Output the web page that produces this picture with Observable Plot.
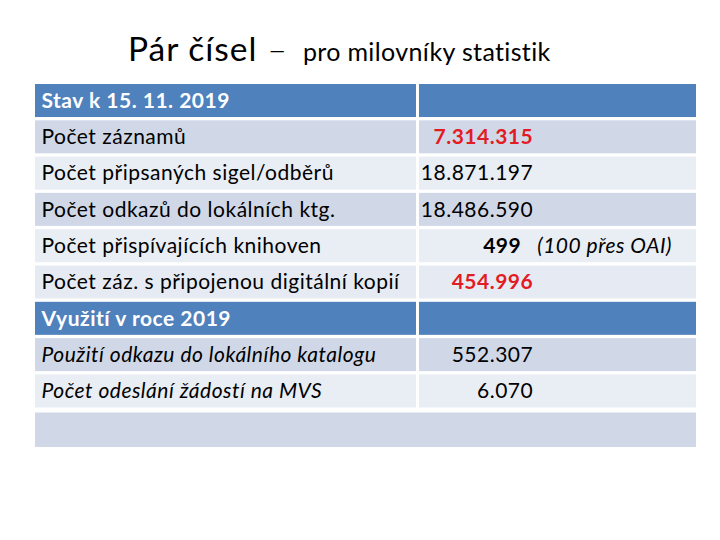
<!DOCTYPE html>
<html>
<head>
<meta charset="utf-8">
<script src="https://cdn.jsdelivr.net/npm/d3@7"></script>
<script src="https://cdn.jsdelivr.net/npm/@observablehq/plot@0.6"></script>
<style>
  html, body { margin: 0; padding: 0; background: #fff; }
  #wrap { width: 720px; height: 540px; position: relative; overflow: hidden; }
  #title { position: absolute; left: 128px; top: 0; height: 80px; width: 600px;
           font-family: Lato, "Open Sans", sans-serif; color: #000; white-space: nowrap; }
  #title .big { position: absolute; top: 28px; left: 0; font-size: 33.5px; line-height: 40px; letter-spacing: 1px; }
  #title .dash { display: inline-block; margin: 0 15px 0 10px; font-weight: 300; }
  #title .sub { font-size: 25px; letter-spacing: 0.35px; }
  #chart { position: absolute; left: 0; top: 80px; }
  #chart svg { font-family: Lato, sans-serif; }
  #chart svg text { letter-spacing: 0.5px; }
</style>
</head>
<body>
<div id="wrap">
  <div id="title"><div class="big">Pár čísel<span class="dash">–</span><span class="sub">pro milovníky statistik</span></div></div>
  <div id="chart"></div>
</div>
<script>
// ---- data ----
const rowLabels = [
  "Stav k 15. 11. 2019",
  "Počet záznamů",
  "Počet připsaných sigel/odběrů",
  "Počet odkazů do lokálních ktg.",
  "Počet přispívajících knihoven",
  "Počet záz. s připojenou digitální kopií",
  "Využití v roce 2019",
  "Použití odkazu do lokálního katalogu",
  "Počet odeslání žádostí na MVS",
  ""
];
const rowValues = ["", "7.314.315", "18.871.197", "18.486.590", "499", "454.996", "", "552.307", "6.070", ""];
const rowNotes = ["", "", "", "", "(100 přes OAI)", "", "", "", "", ""];
const rowKind = ["header", "body", "body", "body", "body", "body", "header", "body", "body", "footer"];

// ---- layout / style (not data) ----
const split0 = 57.64, split1 = 58.09;   // column boundary in % of table width
const valueEdge = 75.3, noteStart = 75.9;
const shade = ["#4F81BD", "#D0D8E8", "#E9EDF4", "#D0D8E8", "#E9EDF4", "#E6EBF3", "#4F81BD", "#D0D8E8", "#E9EDF4", "#D0D8E8"];
const highlight = new Set([1, 5]);   // red bold values
const boldValue = new Set([4]);
const italicRows = new Set([7, 8]);

const rows = rowLabels.map((label, i) => ({
  i, label, value: rowValues[i], note: rowNotes[i], kind: rowKind[i], fill: shade[i]
}));

const cells = [];
for (const r of rows) {
  if (r.kind === "footer") {
    cells.push({x1: 0, x2: 100, y1: r.i + 0.05, y2: r.i + 1.0, fill: r.fill});
  } else {
    cells.push({x1: 0, x2: split0, y1: r.i, y2: r.i + 0.91, fill: r.fill});
    cells.push({x1: split1, x2: 100, y1: r.i, y2: r.i + 0.91, fill: r.fill});
  }
}

const mid = d => d.i + 0.455;
const fs = 21;

const plot = Plot.plot({
  width: 720,
  height: 460,
  margin: 0,
  x: {type: "linear", domain: [0, 100], range: [35, 696], axis: null},
  y: {type: "linear", domain: [0, 10], range: [4, 367], axis: null},
  color: {type: "identity"},
  marks: [
    Plot.rect(cells, {x1: "x1", x2: "x2", y1: "y1", y2: "y2", fill: "fill"}),
    // header labels
    Plot.text(rows, {filter: d => d.kind === "header", x: () => 0, y: mid, text: "label",
      dx: 6, textAnchor: "start", lineAnchor: "middle", fill: "#fff", fontWeight: "bold", fontSize: fs}),
    // normal labels
    Plot.text(rows, {filter: d => d.kind === "body" && !italicRows.has(d.i), x: () => 0, y: mid, text: "label",
      dx: 6, textAnchor: "start", lineAnchor: "middle", fill: "#000", fontSize: fs}),
    // italic labels
    Plot.text(rows, {filter: d => italicRows.has(d.i), x: () => 0, y: mid, text: "label",
      dx: 6, textAnchor: "start", lineAnchor: "middle", fill: "#000", fontStyle: "italic", fontSize: fs}),
    // plain values
    Plot.text(rows, {filter: d => d.value && !highlight.has(d.i) && !boldValue.has(d.i), x: () => valueEdge, y: mid, text: "value",
      textAnchor: "end", lineAnchor: "middle", fill: "#000", fontSize: fs}),
    // bold value
    Plot.text(rows, {filter: d => boldValue.has(d.i), x: () => valueEdge, y: mid, text: "value",
      dx: -12, textAnchor: "end", lineAnchor: "middle", fill: "#000", fontWeight: "bold", fontSize: fs}),
    // highlighted values
    Plot.text(rows, {filter: d => highlight.has(d.i), x: () => valueEdge, y: mid, text: "value",
      textAnchor: "end", lineAnchor: "middle", fill: "#E31B23", fontWeight: "bold", fontSize: fs}),
    // notes
    Plot.text(rows, {filter: d => d.note, x: () => noteStart, y: mid, text: "note",
      textAnchor: "start", lineAnchor: "middle", fill: "#000", fontStyle: "italic", fontSize: fs})
  ]
});
document.getElementById("chart").appendChild(plot);
</script>
</body>
</html>
